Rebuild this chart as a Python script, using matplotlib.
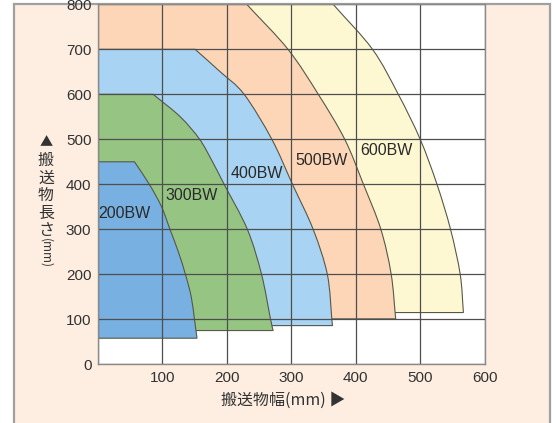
import matplotlib
matplotlib.use("Agg")
import matplotlib.pyplot as plt
from matplotlib.patches import PathPatch, Rectangle
from matplotlib.path import Path
from matplotlib import font_manager as fm

# ---------------- data ----------------
series = ["600BW", "500BW", "400BW", "300BW", "200BW"]   # back -> front
top_y = {"200BW": 450, "300BW": 600, "400BW": 700, "500BW": 800, "600BW": 800}
bottom_y = {"200BW": 58, "300BW": 75, "400BW": 86, "500BW": 101, "600BW": 115}
curve_x = {
    "200BW": [57, 80, 99, 112, 125, 136, 145, 150, 154],
    "300BW": [86, 128, 158, 178, 196, 232, 254, 268, 272],
    "400BW": [151, 190, 227, 270, 302, 334, 356, 363, 364],
    "500BW": [231, 295, 342, 383, 412, 439, 455, 462],
    "600BW": [365, 426, 466, 500, 526, 547, 562, 567],
}
curve_y = {
    "200BW": [450, 400, 350, 300, 250, 200, 150, 100, 58],
    "300BW": [600, 550, 500, 450, 400, 300, 200, 100, 75],
    "400BW": [700, 650, 600, 500, 400, 300, 200, 100, 86],
    "500BW": [800, 700, 600, 500, 400, 300, 200, 101],
    "600BW": [800, 700, 600, 500, 400, 300, 200, 115],
}
colors = {"200BW": "#78b0e2", "300BW": "#96c483", "400BW": "#a9d3f2",
          "500BW": "#fdd6b8", "600BW": "#fef8d2"}
label_pos = {"200BW": (42, 336), "300BW": (146, 375), "400BW": (247, 425),
             "500BW": (347, 452), "600BW": (447, 476)}
xticks = [100, 200, 300, 400, 500, 600]
yticks = [0, 100, 200, 300, 400, 500, 600, 700, 800]
xlabel = "搬送物幅(mm) ▶"
ylabel_chars = ["▲", "搬", "送", "物", "長", "さ"]
ylabel_unit = "(mm)"

# ---------------- fonts ----------------
names = {f.name for f in fm.fontManager.ttflist}
latin = "Liberation Sans" if "Liberation Sans" in names else "DejaVu Sans"
cjk = ["Noto Sans CJK JP", "DejaVu Sans"]


def region_path(s):
    """Flat top edge, smooth (Catmull-Rom drawn as Bezier) curved edge, flat bottom."""
    P = list(zip(curve_x[s], curve_y[s]))
    verts = [(0, top_y[s]), P[0]]
    codes = [Path.MOVETO, Path.LINETO]
    first = (2 * P[0][0] - P[1][0], 2 * P[0][1] - P[1][1])
    last = (2 * P[-1][0] - P[-2][0], 2 * P[-1][1] - P[-2][1])
    ext = [first] + P + [last]
    for i in range(1, len(ext) - 2):
        p0, p1, p2, p3 = ext[i - 1], ext[i], ext[i + 1], ext[i + 2]
        c1 = (p1[0] + (p2[0] - p0[0]) / 6, p1[1] + (p2[1] - p0[1]) / 6)
        c2 = (p2[0] - (p3[0] - p1[0]) / 6, p2[1] - (p3[1] - p1[1]) / 6)
        verts += [c1, c2, p2]
        codes += [Path.CURVE4] * 3
    verts += [(0, bottom_y[s]), (0, top_y[s])]
    codes += [Path.LINETO, Path.CLOSEPOLY]
    return Path(verts, codes)


W, H = 558, 423
fig = plt.figure(figsize=(W / 100, H / 100), dpi=100)
fig.patch.set_facecolor("white")

# outer peach frame
frame = Rectangle((14 / W, -0.02), (550 - 14) / W, 1.02 - 4 / H,
                  transform=fig.transFigure, facecolor="#fdeee1",
                  edgecolor="#a0a0a0", linewidth=1.6, zorder=-10)
fig.patches.append(frame)

ax = fig.add_axes([97.7 / W, 1 - 364.3 / H, (484.7 - 97.7) / W, (364.3 - 4.3) / H])
ax.set_zorder(1)
ax.set_facecolor("white")
ax.set_xlim(0, 600)
ax.set_ylim(0, 800)

for s in series:
    ax.add_patch(PathPatch(region_path(s), facecolor=colors[s],
                           edgecolor="#55584a", linewidth=0.8, zorder=1))

ax.set_xticks(range(0, 601, 100))
ax.set_yticks(yticks)
ax.set_xticklabels([""] + [str(v) for v in xticks])
ax.set_yticklabels([str(v) for v in yticks])
ax.tick_params(length=0, labelsize=11, colors="#333333")
ax.tick_params(axis="y", pad=4.5)
ax.tick_params(axis="x", pad=4.5)
for lab in ax.get_xticklabels() + ax.get_yticklabels():
    lab.set_fontfamily(latin)

ax.set_axisbelow(False)
ax.grid(True, color="#4e4e4e", linewidth=0.9, zorder=2)
for sp in ax.spines.values():
    sp.set_color("#8a8a8a")
    sp.set_linewidth(1.0)
    sp.set_zorder(3)

for s in series:
    x, y = label_pos[s]
    ax.text(x, y, s, ha="center", va="center", fontsize=11.5, color="#2a2a2a",
            family=latin, zorder=4)

# x label
fig.text(283 / W, 1 - 400 / H, xlabel, ha="center", va="center", fontsize=11.5,
         color="#333333", family=cjk)

# vertical y label
y0, step = 143, 17.5
for i, ch in enumerate(ylabel_chars):
    fig.text(46 / W, 1 - (y0 + i * step) / H, ch, ha="center", va="center",
             fontsize=11.5 if ch != "▲" else 9.5, color="#333333", family=cjk)
fig.text(46 / W, 1 - 253 / H, ylabel_unit, ha="center", va="center",
         rotation=-90, fontsize=8.5, color="#333333", family=cjk)

fig.savefig("out.png", dpi=100)
